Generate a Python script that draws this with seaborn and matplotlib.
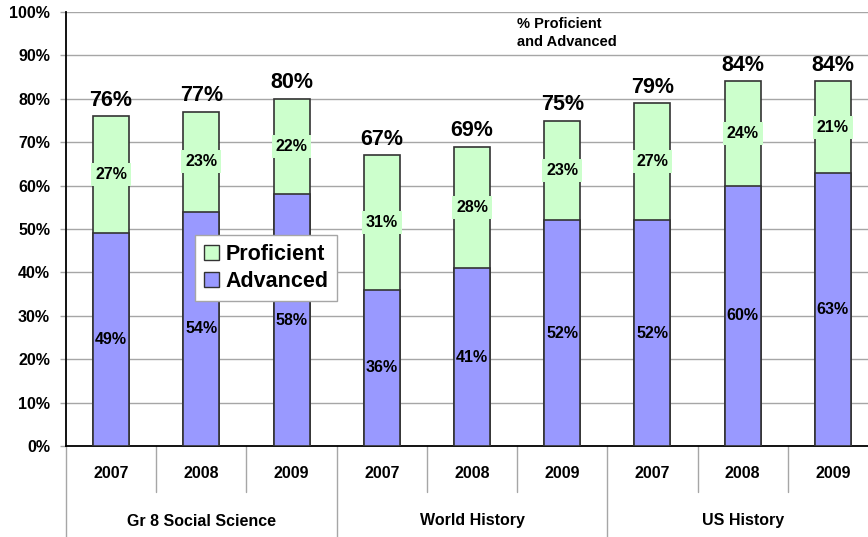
"""Stacked bar chart: % Proficient and Advanced by subject and year."""

import matplotlib.pyplot as plt
import matplotlib.transforms as mtransforms
import pandas as pd
import seaborn as sns
from matplotlib.patches import Patch

GROUPS = ["Gr 8 Social Science", "World History", "US History"]
YEARS = ["2007", "2008", "2009"]
ADVANCED = [49, 54, 58, 36, 41, 52, 52, 60, 63]
PROFICIENT = [27, 23, 22, 31, 28, 23, 27, 24, 21]
TOTALS = [76, 77, 80, 67, 69, 75, 79, 84, 84]

GREEN = "#CCFFCC"
BLUE = "#9999FF"
EDGE = "#333333"
GRID = "#a6a6a6"

sns.set_theme(style="white")
plt.rcParams["font.family"] = ["Liberation Sans", "DejaVu Sans"]
plt.rcParams["font.weight"] = "bold"
plt.rcParams["text.color"] = "black"
plt.rcParams["ytick.color"] = "black"

data = pd.DataFrame(
    {
        "bar": [f"{g}\n{y}" for g in GROUPS for y in YEARS],
        "year": [y for g in GROUPS for y in YEARS],
        "advanced": ADVANCED,
        "proficient": PROFICIENT,
        "total": TOTALS,
    }
)

fig = plt.figure(figsize=(8.68, 5.37), dpi=100)
ax = fig.add_axes([66 / 868, 91 / 537, 812 / 868, 434 / 537])

sns.barplot(data=data, x="bar", y="total", color=GREEN, saturation=1, width=0.4,
            edgecolor=EDGE, linewidth=1.2, ax=ax, zorder=3)
sns.barplot(data=data, x="bar", y="advanced", color=BLUE, saturation=1, width=0.4,
            edgecolor=EDGE, linewidth=1.2, ax=ax, zorder=3)

ax.set_xlim(-0.5, len(data) - 0.5)
ax.set_ylim(0, 100)
ax.set_yticks(range(0, 101, 10))
ax.set_yticklabels([f"{v}%" for v in range(0, 101, 10)], fontsize=11.5, fontweight="bold")
ax.yaxis.grid(True, color=GRID, linewidth=1)
ax.set_axisbelow(True)
ax.tick_params(axis="y", length=4.5, width=1, color=GRID, labelcolor="black", pad=7, left=True)
ax.set_xticks([])
ax.set_xlabel("")
ax.set_ylabel("")
for side in ["top", "right"]:
    ax.spines[side].set_visible(False)
for side in ["left", "bottom"]:
    ax.spines[side].set_color("black")
    ax.spines[side].set_linewidth(1.3)

# value labels
for i, row in data.iterrows():
    ax.text(i, row["advanced"] / 2, f"{row['advanced']}%", ha="center", va="center",
            fontsize=11.5, fontweight="bold", zorder=5)
    ax.text(i, row["advanced"] + row["proficient"] / 2, f"{row['proficient']}%",
            ha="center", va="center", fontsize=11.5, fontweight="bold", zorder=5,
            bbox=dict(boxstyle="square,pad=0.25", facecolor=GREEN, edgecolor="none"))
    ax.annotate(f"{row['total']}%", (i, row["total"]), xytext=(0, 4),
                textcoords="offset points", ha="center", va="bottom",
                fontsize=15.5, fontweight="bold", zorder=5)

# two-level category axis drawn as a table under the plot
trans = mtransforms.blended_transform_factory(ax.transData, ax.transAxes)
year_depth = -46 / 434
group_depth = -91 / 434
for i, year in enumerate(data["year"]):
    ax.text(i, -28 / 434, year, transform=trans, ha="center", va="center",
            fontsize=11.5, fontweight="bold")
for k in range(len(data) + 1):
    x = k - 0.5
    depth = group_depth if k % 3 == 0 else year_depth
    ax.plot([x, x], [0, depth], transform=trans, color=GRID, linewidth=1, clip_on=False)
for j, group in enumerate(GROUPS):
    ax.text(3 * j + 1, -75 / 434, group, transform=trans, ha="center", va="center",
            fontsize=11.5, fontweight="bold")

fig.text(517 / 868, 1 - 17 / 537, "% Proficient\nand Advanced", ha="left", va="top",
         fontsize=10.5, fontweight="bold", linespacing=1.4)

handles = [Patch(facecolor=GREEN, edgecolor=EDGE, label="Proficient"),
           Patch(facecolor=BLUE, edgecolor=EDGE, label="Advanced")]
leg = ax.legend(handles=handles, loc="upper left", bbox_to_anchor=(195 / 868, 1 - 235 / 537),
                bbox_transform=fig.transFigure, fancybox=False, framealpha=1,
                edgecolor=GRID, prop={"size": 15.5, "weight": "bold"},
                handlelength=0.7, handleheight=0.7, handletextpad=0.3,
                labelspacing=0.3, borderpad=0.4, borderaxespad=0)
leg.set_zorder(6)

fig.savefig("out.png", dpi=100)
plt.close(fig)
